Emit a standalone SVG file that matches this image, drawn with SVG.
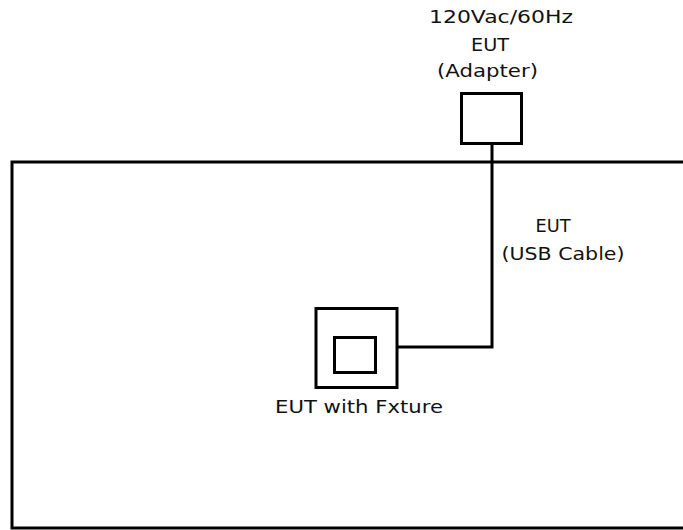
<svg xmlns="http://www.w3.org/2000/svg" width="683" height="530" viewBox="0 0 683 530">
<style>
.box{fill:none;stroke:#000;stroke-width:3}
.wire{fill:none;stroke:#000;stroke-width:3}
text{font-family:"DejaVu Sans","Liberation Sans",sans-serif;font-size:18px;fill:#111;text-anchor:middle}
</style>
<rect width="683" height="530" fill="#fff"/>
<g id="table">
<rect class="box" x="12" y="162" width="700" height="366"/>
</g>
<g id="adapter">
<text x="501" y="23" textLength="144" lengthAdjust="spacingAndGlyphs">120Vac/60Hz</text>
<text x="490" y="51" textLength="38" lengthAdjust="spacingAndGlyphs">EUT</text>
<text x="487.5" y="77" textLength="101" lengthAdjust="spacingAndGlyphs">(Adapter)</text>
<rect class="box" x="461.5" y="93.5" width="60" height="50"/>
</g>
<g id="fixture">
<rect class="box" x="316" y="308.5" width="81" height="79"/>
<rect class="box" x="334.5" y="337.5" width="41" height="35"/>
<text x="359" y="413" textLength="168" lengthAdjust="spacingAndGlyphs">EUT with Fxture</text>
</g>
<g id="connectors">
<path class="wire" d="M492 143.5 V347 H397"/>
<text x="553" y="232" textLength="35" lengthAdjust="spacingAndGlyphs">EUT</text>
<text x="563" y="260" textLength="123" lengthAdjust="spacingAndGlyphs">(USB Cable)</text>
</g>
</svg>
